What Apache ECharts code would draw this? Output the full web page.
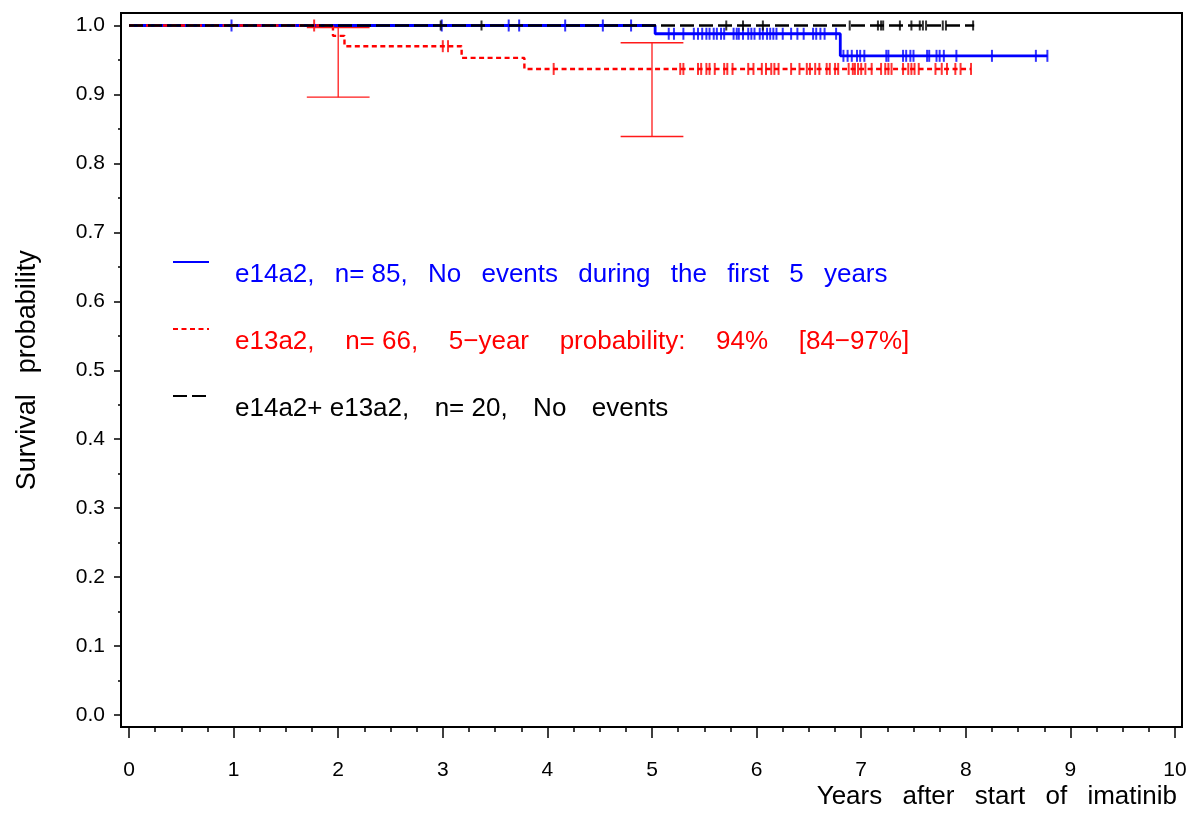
<!DOCTYPE html>
<html><head><meta charset="utf-8">
<script src="https://cdn.jsdelivr.net/npm/echarts@6/dist/echarts.min.js"></script>
<style>html,body{margin:0;padding:0;background:#fff}#c{width:1193px;height:838px}</style>
</head><body><div id="c"></div>
<script>
// ---- data ----
const SP = ' \u2002';
const SP2 = ' \u2002\u2009\u2009';
const SP3 = ' \u2002\u2009';
const seriesNames = [
  `e14a2,${SP}n= 85,${SP}No${SP}events${SP}during${SP}the${SP}first${SP}5${SP}years`,
  `e13a2,${SP2}n= 66,${SP2}5\u2212year${SP2}probability:${SP2}94%${SP2}[84\u221297%]`,
  `e14a2+ e13a2,${SP3}n= 20,${SP3}No${SP3}events`
];
const seriesColors = ['#0000ff', '#ff0000', '#000000'];

// Kaplan-Meier step points (time in years, survival after that time)
const e14a2Times = [0, 5.03, 6.80, 8.78];
const e14a2Surv  = [1, 0.988, 0.956, 0.956];
const e13a2Times = [0, 1.95, 2.06, 3.18, 3.78, 8.05];
const e13a2Surv  = [1, 0.985, 0.970, 0.953, 0.937, 0.937];
const comboTimes = [0, 8.08];
const comboSurv  = [1, 1];

// censoring times
const e14a2Censor = [0.98, 2.99, 3.63, 3.73, 4.17, 4.53, 4.80,
  5.16, 5.21, 5.30, 5.40, 5.44, 5.48, 5.52, 5.55, 5.59, 5.62, 5.66, 5.69, 5.78, 5.81, 5.83, 5.87,
  5.92, 5.95, 5.98, 6.03, 6.06, 6.10, 6.13, 6.16, 6.19, 6.25, 6.33, 6.39, 6.45, 6.54, 6.57, 6.61, 6.65, 6.76,
  6.83, 6.87, 6.91, 6.96, 6.99, 7.03, 7.24, 7.26, 7.40, 7.43, 7.47, 7.50, 7.63, 7.65, 7.72, 7.75, 7.79,
  7.91, 8.25, 8.67, 8.78];
const e13a2Censor = [1.77, 3.00, 3.05, 4.06,
  5.27, 5.30, 5.44, 5.47, 5.52, 5.55, 5.60, 5.69, 5.72, 5.77, 5.92, 5.97, 6.05, 6.09, 6.14, 6.17, 6.21,
  6.33, 6.41, 6.48, 6.51, 6.56, 6.60, 6.67, 6.70, 6.75, 6.78, 6.88, 6.92, 6.94, 6.97, 7.00, 7.04, 7.10,
  7.19, 7.23, 7.26, 7.29, 7.40, 7.45, 7.48, 7.51, 7.55, 7.71, 7.77, 7.82, 7.90, 7.95, 8.05];
const comboCensor = [2.98, 3.37, 5.71, 5.87, 6.06, 6.89, 7.16, 7.19, 7.21, 7.37, 7.48, 7.56, 7.59, 7.62, 7.78, 7.81, 8.07];

// e13a2 confidence intervals
const ciTimes = [2, 5];
const ciLower = [0.896, 0.839];
const ciUpper = [0.997, 0.975];

const xTitle = `Years${SP}after${SP}start${SP}of${SP}imatinib`;
const yTitle = `Survival${SP}probability`;

// ---- build ----
const FONT = "'Liberation Sans', Arial, Helvetica, sans-serif";
function survAt(times, surv, t) {
  let v = surv[0];
  for (let i = 0; i < times.length; i++) if (times[i] <= t) v = surv[i];
  return v;
}
const curves = [
  {times: e14a2Times, surv: e14a2Surv, cens: e14a2Censor, width: 2.8, type: 'solid', h: 12},
  {times: e13a2Times, surv: e13a2Surv, cens: e13a2Censor, width: 2.4, type: [5, 3.5], h: 12},
  {times: comboTimes, surv: comboSurv, cens: comboCensor, width: 2.6, type: [14, 5], h: 10}
];
const series = [];
curves.forEach((c, i) => {
  series.push({
    name: seriesNames[i], type: 'line', step: 'end', symbol: 'none', clip: false,
    xAxisIndex: 1, yAxisIndex: 1,
    data: c.times.map((t, k) => [t, c.surv[k]]),
    itemStyle: {color: seriesColors[i]},
    lineStyle: {color: seriesColors[i], width: c.width, type: c.type},
    z: 2 + i, silent: true
  });
  series.push({
    name: 'censor' + i, type: 'scatter', clip: false, xAxisIndex: 1, yAxisIndex: 1,
    symbol: 'rect', symbolSize: [2, c.h],
    itemStyle: {color: seriesColors[i]},
    data: c.cens.map(t => [t, survAt(c.times, c.surv, t)]),
    z: 2 + i, silent: true
  });
});
series.push({
  name: 'ci', type: 'custom', xAxisIndex: 1, yAxisIndex: 1, clip: false, z: 6, silent: true,
  data: ciTimes.map((t, k) => [t, ciLower[k], ciUpper[k]]),
  encode: {x: 0, y: [1, 2]},
  renderItem: function (params, api) {
    const x = api.value(0), lo = api.value(1), hi = api.value(2);
    const half = 0.3;
    const pt = api.coord([x, hi]), pb = api.coord([x, lo]);
    const tl = api.coord([x - half, hi]), tr = api.coord([x + half, hi]);
    const bl = api.coord([x - half, lo]), br = api.coord([x + half, lo]);
    const st = {stroke: '#ff1a1a', lineWidth: 1.3};
    return {type: 'group', children: [
      {type: 'line', shape: {x1: pt[0], y1: pt[1], x2: pb[0], y2: pb[1]}, style: st},
      {type: 'line', shape: {x1: tl[0], y1: tl[1], x2: tr[0], y2: tr[1]}, style: st},
      {type: 'line', shape: {x1: bl[0], y1: bl[1], x2: br[0], y2: br[1]}, style: st}
    ]};
  }
});

const chart = echarts.init(document.getElementById('c'), null, {renderer: 'canvas'});
chart.setOption({
  animation: false,
  backgroundColor: '#fff',
  textStyle: {fontFamily: FONT},
  grid: [
    {left: 121, right: 11, top: 13, bottom: 111, show: true, borderColor: '#000', borderWidth: 2,
     backgroundColor: 'transparent', outerBoundsMode: 'none', containLabel: false},
    {left: 129, right: 18, top: 25.5, bottom: 123, outerBoundsMode: 'none', containLabel: false}
  ],
  xAxis: [
    {gridIndex: 0, type: 'value', show: false, min: 0, max: 1},
    {gridIndex: 1, type: 'value', min: 0, max: 10, interval: 1, offset: 12, position: 'bottom',
     axisLine: {show: false, onZero: false}, splitLine: {show: false},
     axisTick: {show: true, inside: false, length: 11, lineStyle: {color: '#000', width: 1.5}},
     minorTick: {show: true, splitNumber: 4, length: 5, lineStyle: {color: '#000', width: 1.5}},
     axisLabel: {margin: 33, fontSize: 21, color: '#000', fontFamily: FONT},
     name: xTitle, nameLocation: 'end', nameGap: 2, nameMoveOverlap: false,
     nameTextStyle: {fontSize: 26, color: '#000', fontFamily: FONT, align: 'right', verticalAlign: 'top', padding: [57, 0, 0, 0]}
    }
  ],
  yAxis: [
    {gridIndex: 0, type: 'value', show: false, min: 0, max: 1},
    {gridIndex: 1, type: 'value', min: 0, max: 1, interval: 0.1, offset: 8, position: 'left',
     axisLine: {show: false, onZero: false}, splitLine: {show: false},
     axisTick: {show: true, inside: false, length: 7, lineStyle: {color: '#000', width: 1.5}},
     minorTick: {show: true, splitNumber: 2, length: 3, lineStyle: {color: '#000', width: 1.5}},
     axisLabel: {margin: 16, fontSize: 21, color: '#000', fontFamily: FONT, formatter: v => v.toFixed(1)},
     name: yTitle, nameLocation: 'middle', nameRotate: 90, nameGap: 80, nameMoveOverlap: false,
     nameTextStyle: {fontSize: 27, color: '#000', fontFamily: FONT}
    }
  ],
  legend: {
    orient: 'vertical', left: 172, top: 236, padding: 0, itemWidth: 36, itemHeight: 14, itemGap: 15,
    selectedMode: false,
    itemStyle: {opacity: 0},
    formatter: n => '\n' + n,
    textStyle: {fontSize: 26, lineHeight: 26, fontFamily: FONT, padding: [0, 0, 0, 21]},
    data: seriesNames.map((n, i) => ({name: n, textStyle: {color: seriesColors[i], fontSize: 26, lineHeight: 26, fontFamily: FONT, padding: [0, 0, 0, 21]}}))
  },
  series: series
});
</script>
</body></html>
